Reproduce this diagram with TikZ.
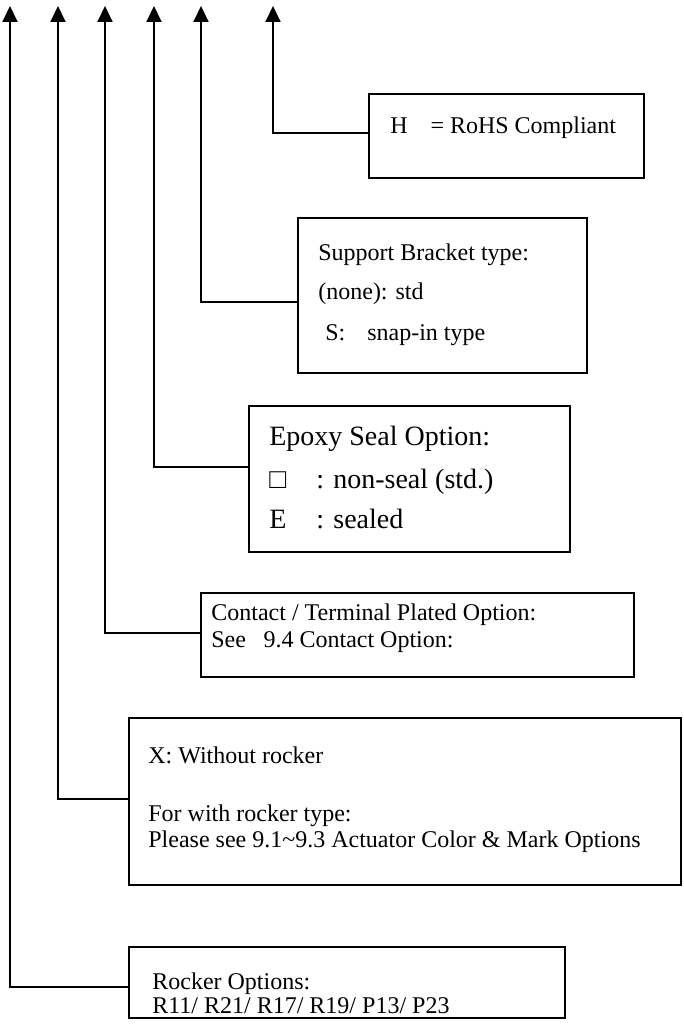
\documentclass[tikz,border=0pt]{standalone}
\usepackage{fontspec}
\setmainfont{Liberation Serif}
\usetikzlibrary{arrows.meta}

\begin{document}
\begin{tikzpicture}[
    x=0.02cm, y=-0.02cm,
    optbox/.style={rectangle, draw=black, line width=1.1pt, anchor=north west, inner sep=0pt},
    txt/.style={anchor=base west, inner sep=0pt, font=\fontsize{13.66pt}{16pt}\selectfont},
    bigtxt/.style={txt, font=\fontsize{15.93pt}{19pt}\selectfont},
    feed/.style={-{Triangle[length=0.32cm, width=0.30cm]}, line width=1.1pt}
]
\useasboundingbox (0,0) rectangle (683,1024);

% option boxes
\node[optbox, minimum width=5.50cm, minimum height=1.68cm] (rohs) at (368,93) {};
\node[optbox, minimum width=5.78cm, minimum height=3.10cm] (bracket) at (297,217) {};
\node[optbox, minimum width=6.42cm, minimum height=2.92cm] (epoxy) at (248,405) {};
\node[optbox, minimum width=8.66cm, minimum height=1.68cm] (contact) at (200,592) {};
\node[optbox, minimum width=11.04cm, minimum height=3.34cm] (color) at (128,717) {};
\node[optbox, minimum width=8.72cm, minimum height=1.42cm] (rocker) at (128,946) {};

% texts
\node[txt] (rohsA) at (390,133) {H\hspace{13pt}= RoHS Compliant};
\node[txt] (bracketA) at (318,260) {Support Bracket type:};
\node[txt] (bracketB) at (318,299) {(none): std};
\node[txt] (bracketC) at (325,340) {\makebox[23.9pt][l]{S:}snap-in type};
\node[bigtxt] (epoxyA) at (269,445) {Epoxy Seal Option:};
\node[bigtxt] (epoxyB) at (269,488) {\makebox[26.7pt][l]{□}: non-seal (std.)};
\node[bigtxt] (epoxyC) at (269,528) {\makebox[26.7pt][l]{E}: sealed};
\node[txt] (contactA) at (211,620) {Contact / Terminal Plated Option:};
\node[txt] (contactB) at (211,647) {See\hspace{10pt}9.4 Contact Option:};
\node[txt] (colorA) at (148,763) {X: Without rocker};
\node[txt] (colorB) at (148,821) {For with rocker type:};
\node[txt] (colorC) at (148,847) {Please see 9.1\textasciitilde 9.3 Actuator Color \& Mark Options};
\node[txt] (rockerA) at (152,989) {Rocker Options:};
\node[txt] (rockerB) at (152,1013) {R11/ R21/ R17/ R19/ P13/ P23};

% arrow tops and junctions
\coordinate (topR) at (273,6);   \coordinate (jR) at (273,133);
\coordinate (topB) at (201,6);   \coordinate (jB) at (201,302);
\coordinate (topE) at (154,6);   \coordinate (jE) at (154,467);
\coordinate (topC) at (105,6);   \coordinate (jC) at (105,633);
\coordinate (topX) at (58,6);    \coordinate (jX) at (58,799);
\coordinate (topK) at (10,6);    \coordinate (jK) at (10,987);

\draw[feed] (rohs.west |- jR) -- (jR) -- (topR);
\draw[feed] (bracket.west |- jB) -- (jB) -- (topB);
\draw[feed] (epoxy.west |- jE) -- (jE) -- (topE);
\draw[feed] (contact.west |- jC) -- (jC) -- (topC);
\draw[feed] (color.west |- jX) -- (jX) -- (topX);
\draw[feed] (rocker.west |- jK) -- (jK) -- (topK);
\end{tikzpicture}
\end{document}
